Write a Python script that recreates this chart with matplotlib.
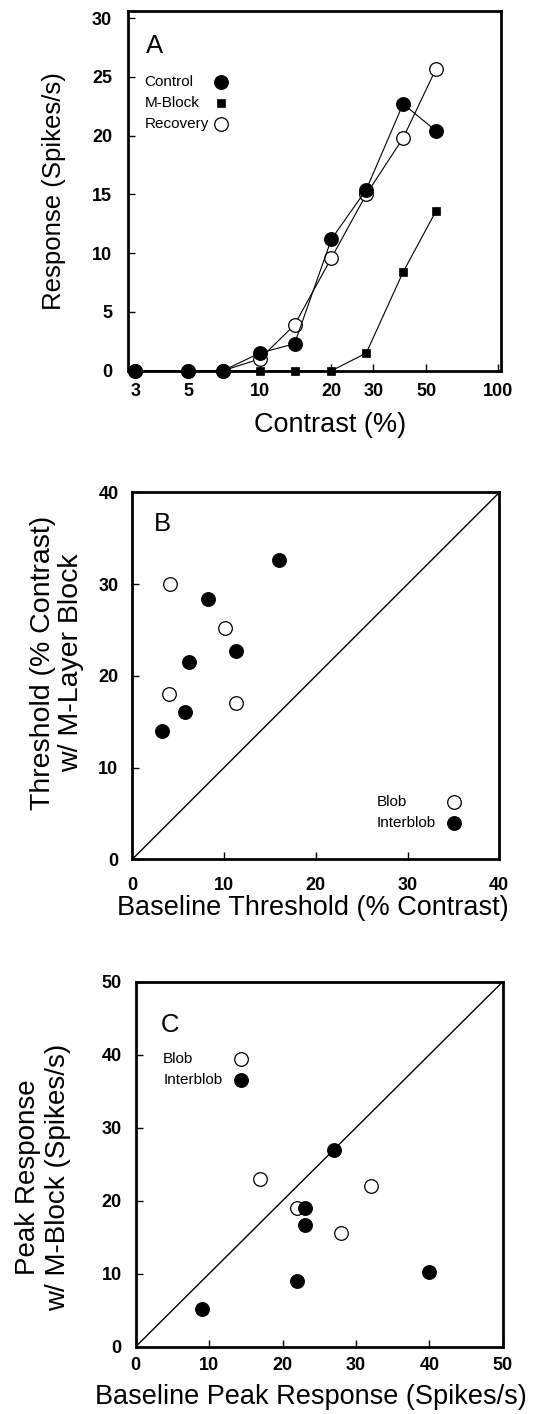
#!/usr/bin/env python3
"""Contrast response and threshold / peak response panels (A, B, C)."""

import matplotlib

matplotlib.use("Agg")
import matplotlib.pyplot as plt
from matplotlib.ticker import NullLocator

plt.rcParams["font.family"] = ["Liberation Sans", "DejaVu Sans"]

# --- panel A: contrast response function -----------------------------------
CONTRAST = [3, 5, 7, 10, 14, 20, 28, 40, 55]
CONTROL = [0, 0, 0, 1.5, 2.3, 11.2, 15.4, 22.7, 20.4]
M_BLOCK = [0, 0, 0, 0, 0, 0, 1.5, 8.4, 13.6]
RECOVERY = [0, 0, 0, 1.0, 3.9, 9.6, 15.0, 19.8, 25.7]
A_XTICKS = [3, 5, 10, 20, 30, 50, 100]
A_YTICKS = [0, 5, 10, 15, 20, 25, 30]

# --- panel B: threshold, baseline vs M-layer block -------------------------
B_BLOB_X = [4.1, 10.1, 4.0, 11.3]
B_BLOB_Y = [30.0, 25.2, 18.0, 17.0]
B_INTER_X = [16.0, 8.3, 11.3, 6.2, 5.7, 3.2]
B_INTER_Y = [32.6, 28.4, 22.7, 21.5, 16.1, 14.0]
B_TICKS = [0, 10, 20, 30, 40]

# --- panel C: peak response, baseline vs M-block ---------------------------
C_BLOB_X = [17, 22, 32, 28]
C_BLOB_Y = [23.0, 19.0, 22.0, 15.6]
C_INTER_X = [27, 23, 23, 22, 9, 40]
C_INTER_Y = [27.0, 19.0, 16.7, 9.0, 5.1, 10.2]
C_TICKS = [0, 10, 20, 30, 40, 50]

MS = 9.8
FILLED = dict(marker="o", ms=MS, mfc="black", mec="black", mew=0.9)
OPEN = dict(marker="o", ms=MS, mfc="white", mec="black", mew=0.9)
SQUARE = dict(marker="s", ms=5.5, mfc="black", mec="black", mew=0.5)


def style_axes(ax, xpad, ypad):
    for spine in ax.spines.values():
        spine.set_linewidth(2.0)
    ax.tick_params(direction="in", length=5, width=1.0, labelsize=13)
    ax.tick_params(axis="x", pad=xpad)
    ax.tick_params(axis="y", pad=ypad)
    plt.setp(ax.get_xticklabels() + ax.get_yticklabels(), fontweight="bold")


def key(ax, x_text, x_mark, y, label, style):
    # hand-placed legend: left aligned text, markers in one column
    ax.text(x_text, y, label, transform=ax.transAxes, fontsize=11, ha="left", va="center")
    ax.plot([x_mark], [y], transform=ax.transAxes, linestyle="none", clip_on=False, **style)


def panel_letter(ax, x, y, letter):
    ax.text(x, y, letter, transform=ax.transAxes, fontsize=18.5, ha="left", va="center")


def main() -> None:
    fig = plt.figure(figsize=(5.36, 14.14), dpi=100)
    ax_a = fig.add_axes([0.2388, 0.7378, 0.6959, 0.2544])
    ax_b = fig.add_axes([0.2468, 0.3923, 0.6847, 0.2594])
    ax_c = fig.add_axes([0.2532, 0.0476, 0.6847, 0.2581])

    # A
    ax_a.set_xscale("log")
    ax_a.plot(CONTRAST, RECOVERY, color="black", lw=0.8, clip_on=False, zorder=3, **OPEN)
    ax_a.plot(CONTRAST, M_BLOCK, color="black", lw=0.8, clip_on=False, zorder=3, **SQUARE)
    ax_a.plot(CONTRAST, CONTROL, color="black", lw=0.8, clip_on=False, zorder=4, **FILLED)
    ax_a.set_xlim(2.8, 103)
    ax_a.set_ylim(0, 30.6)
    ax_a.set_xticks(A_XTICKS)
    ax_a.set_xticklabels([str(t) for t in A_XTICKS])
    ax_a.xaxis.set_minor_locator(NullLocator())
    ax_a.set_yticks(A_YTICKS)
    style_axes(ax_a, xpad=9, ypad=11.5)
    ax_a.set_xlabel("Contrast (%)", fontsize=19.5, va="center")
    ax_a.xaxis.set_label_coords(0.5416, -0.151)
    ax_a.set_ylabel("Response (Spikes/s)", fontsize=18.5, va="center")
    ax_a.yaxis.set_label_coords(-0.198, 0.5)
    panel_letter(ax_a, 0.048, 0.9035, "A")
    key(ax_a, 0.044, 0.248, 0.804, "Control", FILLED)
    key(ax_a, 0.044, 0.248, 0.744, "M-Block", SQUARE)
    key(ax_a, 0.044, 0.248, 0.686, "Recovery", OPEN)

    # B
    ax_b.plot([0, 40], [0, 40], color="black", lw=1.0)
    ax_b.plot(B_BLOB_X, B_BLOB_Y, linestyle="none", zorder=3, **OPEN)
    ax_b.plot(B_INTER_X, B_INTER_Y, linestyle="none", zorder=3, **FILLED)
    ax_b.set_xlim(0, 40)
    ax_b.set_ylim(0, 40)
    ax_b.set_xticks(B_TICKS)
    ax_b.set_yticks(B_TICKS)
    style_axes(ax_b, xpad=12.5, ypad=10)
    ax_b.set_xlabel("Baseline Threshold (% Contrast)", fontsize=19.5, va="center")
    ax_b.xaxis.set_label_coords(0.491, -0.132)
    ax_b.set_ylabel("Threshold (% Contrast)\nw/ M-Layer Block", fontsize=20.5,
                    va="center", linespacing=1.1)
    ax_b.yaxis.set_label_coords(-0.205, 0.535)
    panel_letter(ax_b, 0.059, 0.913, "B")
    key(ax_b, 0.665, 0.876, 0.157, "Blob", OPEN)
    key(ax_b, 0.665, 0.876, 0.099, "Interblob", FILLED)

    # C
    ax_c.plot([0, 50], [0, 50], color="black", lw=1.0)
    ax_c.plot(C_BLOB_X, C_BLOB_Y, linestyle="none", zorder=3, **OPEN)
    ax_c.plot(C_INTER_X, C_INTER_Y, linestyle="none", zorder=3, **FILLED)
    ax_c.set_xlim(0, 50)
    ax_c.set_ylim(0, 50)
    ax_c.set_xticks(C_TICKS)
    ax_c.set_yticks(C_TICKS)
    style_axes(ax_c, xpad=7.3, ypad=10)
    ax_c.set_xlabel("Baseline Peak Response (Spikes/s)", fontsize=19.5, va="center")
    ax_c.xaxis.set_label_coords(0.478, -0.137)
    ax_c.set_ylabel("Peak Response\nw/ M-Block (Spikes/s)", fontsize=20, va="center",
                    linespacing=1.2)
    ax_c.yaxis.set_label_coords(-0.2535, 0.464)
    panel_letter(ax_c, 0.068, 0.881, "C")
    key(ax_c, 0.075, 0.287, 0.789, "Blob", OPEN)
    key(ax_c, 0.075, 0.287, 0.730, "Interblob", FILLED)

    fig.savefig("out.png", dpi=100, facecolor="white")
    plt.close(fig)


if __name__ == "__main__":
    main()
